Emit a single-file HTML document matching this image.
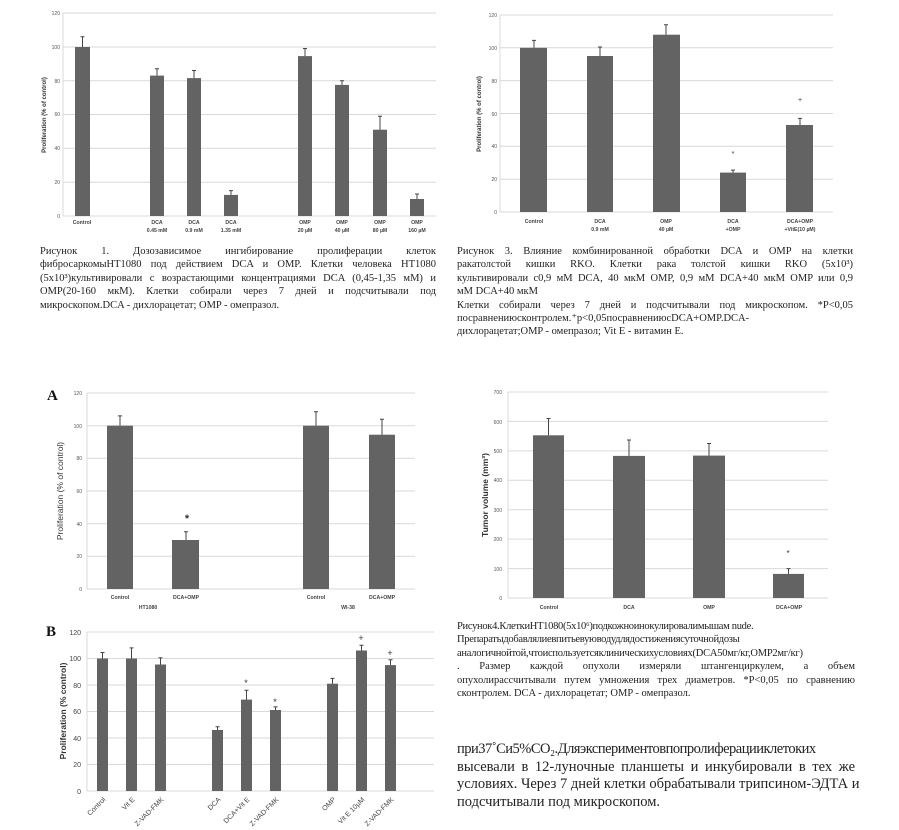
<!DOCTYPE html>
<html><head><meta charset="utf-8">
<style>
body{margin:0;background:#fff;width:899px;height:830px;position:relative;overflow:hidden}
svg{position:absolute;left:0;top:0}
.t{position:absolute;font-family:"Liberation Serif","Noto Serif CJK SC",serif;font-size:10.5px;color:#222;line-height:13.4px}
.t div{white-space:nowrap;overflow:visible}
.j{text-align:justify;text-align-last:justify}
.big{font-size:14.5px;line-height:17.5px}
</style></head><body>
<svg width="899" height="830" font-family="Liberation Sans, sans-serif" fill="#333">
<g stroke="#d9d9d9" stroke-width="1">
<line x1="63" x2="436" y1="13" y2="13"/><line x1="63" x2="436" y1="47" y2="47"/><line x1="63" x2="436" y1="80.7" y2="80.7"/><line x1="63" x2="436" y1="114.5" y2="114.5"/><line x1="63" x2="436" y1="148.3" y2="148.3"/><line x1="63" x2="436" y1="182.2" y2="182.2"/><line x1="63" x2="436" y1="216" y2="216"/>
<line x1="500" x2="833" y1="15" y2="15"/><line x1="500" x2="833" y1="47.8" y2="47.8"/><line x1="500" x2="833" y1="80.6" y2="80.6"/><line x1="500" x2="833" y1="113.5" y2="113.5"/><line x1="500" x2="833" y1="146.3" y2="146.3"/><line x1="500" x2="833" y1="179.2" y2="179.2"/><line x1="500" x2="833" y1="212" y2="212"/>
<line x1="87" x2="415" y1="393" y2="393"/><line x1="87" x2="415" y1="425.7" y2="425.7"/><line x1="87" x2="415" y1="458.3" y2="458.3"/><line x1="87" x2="415" y1="491" y2="491"/><line x1="87" x2="415" y1="523.7" y2="523.7"/><line x1="87" x2="415" y1="556.3" y2="556.3"/><line x1="87" x2="415" y1="589" y2="589"/>
<line x1="87" x2="434" y1="632" y2="632"/><line x1="87" x2="434" y1="658.5" y2="658.5"/><line x1="87" x2="434" y1="685" y2="685"/><line x1="87" x2="434" y1="711.5" y2="711.5"/><line x1="87" x2="434" y1="738" y2="738"/><line x1="87" x2="434" y1="764.5" y2="764.5"/><line x1="87" x2="434" y1="791" y2="791"/>
<line x1="508" x2="828" y1="392" y2="392"/><line x1="508" x2="828" y1="421.4" y2="421.4"/><line x1="508" x2="828" y1="450.9" y2="450.9"/><line x1="508" x2="828" y1="480.3" y2="480.3"/><line x1="508" x2="828" y1="509.7" y2="509.7"/><line x1="508" x2="828" y1="539.1" y2="539.1"/><line x1="508" x2="828" y1="568.6" y2="568.6"/><line x1="508" x2="828" y1="598" y2="598"/>
<line x1="63" x2="63" y1="13" y2="216"/><line x1="500" x2="500" y1="15" y2="212"/><line x1="87" x2="87" y1="393" y2="589"/><line x1="87" x2="87" y1="632" y2="791"/><line x1="508" x2="508" y1="392" y2="598"/>
</g>
<g fill="#636363">
<rect x="75" y="47" width="15" height="169"/><rect x="150" y="75.6" width="14" height="140.4"/><rect x="187" y="78.1" width="14" height="137.9"/><rect x="224" y="194.9" width="14" height="21.1"/><rect x="298" y="56.1" width="14" height="159.9"/><rect x="335" y="84.9" width="14" height="131.1"/><rect x="373" y="129.7" width="14" height="86.3"/><rect x="410" y="199" width="14" height="17"/>
<rect x="520" y="47.8" width="27" height="164.2"/><rect x="587" y="56" width="26" height="156"/><rect x="653" y="34.7" width="27" height="177.3"/><rect x="720" y="172.6" width="26" height="39.4"/><rect x="786" y="125" width="27" height="87"/>
<rect x="107" y="425.7" width="26" height="163.3"/><rect x="172" y="540" width="27" height="49"/><rect x="303" y="425.7" width="26" height="163.3"/><rect x="369" y="434.7" width="26" height="154.3"/>
<rect x="97" y="658.5" width="11" height="132.5"/><rect x="126" y="658.5" width="11" height="132.5"/><rect x="155" y="664.5" width="11" height="126.5"/><rect x="212" y="730" width="11" height="61"/><rect x="241" y="699.6" width="11" height="91.4"/><rect x="270" y="710" width="11" height="81"/><rect x="327" y="683.7" width="11" height="107.3"/><rect x="356" y="650.5" width="11" height="140.5"/><rect x="385" y="665.1" width="11" height="125.9"/>
<rect x="533" y="435.3" width="31" height="162.7"/><rect x="613" y="455.9" width="32" height="142.1"/><rect x="693" y="455.6" width="32" height="142.4"/><rect x="773" y="573.9" width="31" height="24.1"/>
</g>
<g stroke="#444" stroke-width="1">
<path d="M82.5 47V36.7M80.5 36.7h4M157 75.6V68.8M155 68.8h4M194 78.1V70.5M192 70.5h4M231 194.9V190.6M229 190.6h4M305 56.1V48.5M303 48.5h4M342 84.9V80.7M340 80.7h4M380 129.7V116.2M378 116.2h4M417 199V194M415 194h4"/>
<path d="M534 47.8V40.4M532 40.4h4M600 56V47M598 47h4M666 34.7V24.8M664 24.8h4M733 172.6V170.1M731 170.1h4M800 125V118.4M798 118.4h4"/>
<path d="M120 425.7V415.9M118 415.9h4M186 540V531.8M184 531.8h4M316 425.7V411.8M314 411.8h4M382 434.7V419.2M380 419.2h4"/>
<path d="M102.5 658.5V652.5M100.5 652.5h4M131.5 658.5V647.9M129.5 647.9h4M160.5 664.5V657.8M158.5 657.8h4M217.5 730V726.7M215.5 726.7h4M246.5 699.6V690.3M244.5 690.3h4M275.5 710V706.9M273.5 706.9h4M332.5 683.7V678.4M330.5 678.4h4M361.5 650.5V645.3M359.5 645.3h4M390.5 665.1V659.8M388.5 659.8h4"/>
<path d="M548.5 435.3V418.5M546.5 418.5h4M629 455.9V440M627 440h4M709 455.6V443.5M707 443.5h4M788.5 573.9V568.6M786.5 568.6h4"/>
</g>
<g font-size="5" text-anchor="end" fill="#555">
<text x="60" y="15">120</text><text x="60" y="49">100</text><text x="60" y="83">80</text><text x="60" y="116">60</text><text x="60" y="150">40</text><text x="60" y="184">20</text><text x="60" y="218">0</text>
<text x="497" y="17">120</text><text x="497" y="50">100</text><text x="497" y="83">80</text><text x="497" y="116">60</text><text x="497" y="148">40</text><text x="497" y="181">20</text><text x="497" y="214">0</text>
<text x="82" y="395">120</text><text x="82" y="428">100</text><text x="82" y="460">80</text><text x="82" y="493">60</text><text x="82" y="526">40</text><text x="82" y="558">20</text><text x="82" y="591">0</text>
<text x="502" y="394">700</text><text x="502" y="424">600</text><text x="502" y="453">500</text><text x="502" y="482">400</text><text x="502" y="512">300</text><text x="502" y="541">200</text><text x="502" y="571">100</text><text x="502" y="600">0</text>
</g>
<g font-size="7" text-anchor="end" fill="#444"><text x="81" y="635">120</text><text x="81" y="661">100</text><text x="81" y="688">80</text><text x="81" y="714">60</text><text x="81" y="741">40</text><text x="81" y="767">20</text><text x="81" y="794">0</text></g>
<g font-size="5.2" font-weight="bold" text-anchor="middle" fill="#444">
<text x="82" y="224">Control</text><text x="157" y="224">DCA</text><text x="157" y="232">0.45 mM</text><text x="194" y="224">DCA</text><text x="194" y="232">0.9 mM</text><text x="231" y="224">DCA</text><text x="231" y="232">1.35 mM</text><text x="305" y="224">OMP</text><text x="305" y="232">20 µM</text><text x="342" y="224">OMP</text><text x="342" y="232">40 µM</text><text x="380" y="224">OMP</text><text x="380" y="232">80 µM</text><text x="417" y="224">OMP</text><text x="417" y="232">160 µM</text>
<text x="534" y="223">Control</text><text x="600" y="223">DCA</text><text x="600" y="231">0.9 mM</text><text x="666" y="223">OMP</text><text x="666" y="231">40 µM</text><text x="733" y="223">DCA</text><text x="733" y="231">+OMP</text><text x="800" y="223">DCA+OMP</text><text x="800" y="231">+VitE(10 µM)</text>
<text x="120" y="599">Control</text><text x="186" y="599">DCA+OMP</text><text x="316" y="599">Control</text><text x="382" y="599">DCA+OMP</text><text x="148" y="609">HT1080</text><text x="348" y="609">WI-38</text>
<text x="549" y="609">Control</text><text x="629" y="609">DCA</text><text x="709" y="609">OMP</text><text x="789" y="609">DCA+OMP</text>
</g>
<g font-size="7" text-anchor="end" fill="#444">
<text transform="translate(106,800) rotate(-45)">Control</text><text transform="translate(135,800) rotate(-45)">Vit E</text><text transform="translate(164,800) rotate(-45)">Z-VAD-FMK</text><text transform="translate(221,800) rotate(-45)">DCA</text><text transform="translate(250,800) rotate(-45)">DCA+Vit E</text><text transform="translate(279,800) rotate(-45)">Z-VAD-FMK</text><text transform="translate(336,800) rotate(-45)">OMP</text><text transform="translate(365,800) rotate(-45)">Vit E 10µM</text><text transform="translate(394,800) rotate(-45)">Z-VAD-FMK</text>
</g>
<g font-weight="bold" text-anchor="middle" fill="#333">
<text transform="translate(46,115) rotate(-90)" font-size="6">Proliferation (% of control)</text>
<text transform="translate(481,114) rotate(-90)" font-size="6">Proliferation (% of control)</text>
<text transform="translate(63,491) rotate(-90)" font-size="8.5" font-weight="normal">Proliferation (% of control)</text>
<text transform="translate(66,711) rotate(-90)" font-size="8.5">Proliferation (% control)</text>
<text transform="translate(488,495) rotate(-90)" font-size="8.5">Tumor volume (mm³)</text>
</g>
<g text-anchor="middle" fill="#333">
<text x="733" y="156" font-size="7">*</text><text x="800" y="102" font-size="7">+</text>
<text x="187" y="522" font-size="11" font-weight="bold">*</text>
<text x="246" y="686" font-size="9">*</text><text x="275" y="705" font-size="9">*</text><text x="361" y="641" font-size="9">+</text><text x="390" y="656" font-size="9">+</text>
<text x="788" y="556" font-size="8">*</text>
</g>
<g font-family="Liberation Serif, serif" font-weight="bold" font-size="15" fill="#111"><text x="47" y="400">A</text><text x="46" y="636">B</text></g>
</svg>
<div class="t" style="left:40px;top:245px;width:396px">
<div class="j">Рисунок 1. Дозозависимое ингибирование пролиферации клеток</div>
<div class="j">фибросаркомыHT1080 под действием DCA и OMP. Клетки человека HT1080</div>
<div class="j">(5x10³)культивировали с возрастающими концентрациями DCA (0,45-1,35 мМ) и</div>
<div class="j">OMP(20-160 мкМ). Клетки собирали через 7 дней и подсчитывали под</div>
<div>микроскопом.DCA - дихлорацетат; OMP - омепразол.</div>
</div>
<div class="t" style="left:457px;top:245px;width:396px">
<div class="j">Рисунок 3. Влияние комбинированной обработки DCA и OMP на клетки</div>
<div class="j">ракатолстой кишки RKO. Клетки рака толстой кишки RKO (5x10³)</div>
<div class="j">культивировали с0,9 мМ DCA, 40 мкМ OMP, 0,9 мМ DCA+40 мкМ OMP или 0,9</div>
<div>мМ DCA+40 мкМ</div>
<div class="j">Клетки собирали через 7 дней и подсчитывали под микроскопом. *P&lt;0,05</div>
<div>посравнениюсконтролем.⁺p&lt;0,05посравнениюсDCA+OMP.DCA-</div>
<div>дихлорацетат;OMP - омепразол; Vit E - витамин E.</div>
</div>
<div class="t" style="left:457px;top:620px;width:398px">
<div style="letter-spacing:-0.3px">Рисунок4.КлеткиHT1080(5x10⁶)подкожноинокулировалимышам nude.</div>
<div style="letter-spacing:-0.3px">Препаратыдобавлялиевпитьевуюводудлядостижениясуточнойдозы</div>
<div style="letter-spacing:-0.25px">аналогичнойтой,чтоиспользуетсяклиническихусловиях(DCA50мг/кг,OMP2мг/кг)</div>
<div class="j">. Размер каждой опухоли измеряли штангенциркулем, а объем</div>
<div class="j">опухолирассчитывали путем умножения трех диаметров. *P&lt;0,05 по сравнению</div>
<div>сконтролем. DCA - дихлорацетат; OMP - омепразол.</div>
</div>
<div class="t big" style="left:457px;top:741px;width:398px">
<div style="letter-spacing:-0.5px">при37˚Си5%CO₂.Дляэкспериментовпопролиферацииклетоких</div>
<div class="j">высевали в 12-луночные планшеты и инкубировали в тех же</div>
<div class="j">условиях. Через 7 дней клетки обрабатывали трипсином-ЭДТА и</div>
<div>подсчитывали под микроскопом.</div>
</div>
</body></html>
